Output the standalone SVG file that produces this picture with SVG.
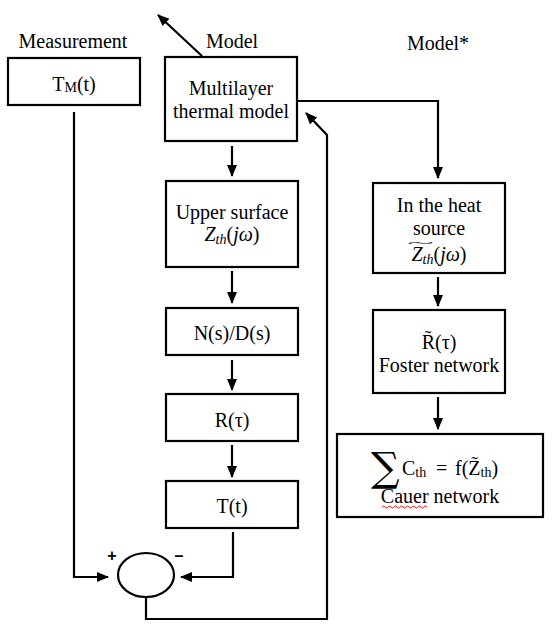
<svg xmlns="http://www.w3.org/2000/svg" width="553" height="639" viewBox="0 0 553 639">
<style>
.box{fill:#fff;stroke:#000;stroke-width:2.2}
.ln{fill:none;stroke:#000;stroke-width:2.2}
.ar{marker-end:url(#ah)}
text{font-family:"Liberation Serif","Times New Roman",serif;font-size:20px;fill:#000}
.c{text-anchor:middle}
.it{font-style:italic}
.sub{font-size:14px}
.sign{font-family:"Liberation Sans",Arial,sans-serif;font-weight:bold;font-size:16px}
</style>
<defs>
<marker id="ah" markerUnits="userSpaceOnUse" markerWidth="12" markerHeight="12" refX="11" refY="5" orient="auto" viewBox="0 0 12 10">
<path d="M0,0 L12,5 L0,10 z" fill="#000"/>
</marker>
</defs>
<rect width="553" height="639" fill="#fff"/>

<g id="labels">
<text class="c" x="73" y="48">Measurement</text>
<text class="c" x="232" y="48">Model</text>
<text class="c" x="438" y="50">Model*</text>
</g>

<g id="connectors">
<line class="ln ar" x1="202" y1="56" x2="158" y2="15"/>
<line class="ln ar" x1="232" y1="146" x2="232" y2="176"/>
<line class="ln ar" x1="232" y1="271" x2="232" y2="303"/>
<line class="ln ar" x1="232" y1="360" x2="232" y2="390"/>
<line class="ln ar" x1="232" y1="445" x2="232" y2="477"/>
<path class="ln ar" d="M233,532 V577 H181"/>
<path class="ln ar" d="M74,112 V577 H108"/>
<path class="ln ar" d="M146,597 V619 H327 V135 L306,113"/>
<path class="ln ar" d="M297,101 H438 V178"/>
<line class="ln ar" x1="438" y1="277" x2="438" y2="306"/>
<line class="ln ar" x1="438" y1="397" x2="438" y2="429"/>
</g>

<g id="measurement">
<rect class="box" x="8" y="58" width="132" height="47"/>
<text class="c" x="74" y="91">T<tspan class="sub" dy="1">M</tspan><tspan dy="-1">(t)</tspan></text>
</g>

<g id="model">
<rect class="box" x="165" y="57" width="132" height="84"/>
<text class="c" x="231" y="95">Multilayer</text>
<text class="c" x="231" y="118">thermal model</text>
</g>

<g id="upper-surface">
<rect class="box" x="166" y="181" width="132" height="86"/>
<text class="c" x="232" y="219">Upper surface</text>
<text class="c" x="232" y="241"><tspan class="it">Z</tspan><tspan class="it sub" dy="3">th</tspan><tspan dy="-3">(</tspan><tspan class="it">jω</tspan>)</text>
</g>

<g id="nd">
<rect class="box" x="166" y="308" width="132" height="47"/>
<text class="c" x="232" y="340">N(s)/D(s)</text>
</g>

<g id="r-tau">
<rect class="box" x="166" y="394" width="132" height="47"/>
<text class="c" x="232" y="427">R(τ)</text>
</g>

<g id="t-t">
<rect class="box" x="166" y="481" width="132" height="47"/>
<text class="c" x="232" y="513">T(t)</text>
</g>

<g id="sum">
<ellipse cx="146" cy="575" rx="28" ry="22" fill="#fff" stroke="#000" stroke-width="2.2"/>
<text class="sign c" x="112" y="561">+</text>
<text class="sign c" x="179" y="561">–</text>
</g>

<g id="heat-source">
<rect class="box" x="373" y="183" width="132" height="90"/>
<text class="c" x="439" y="212">In the heat</text>
<text class="c" x="439" y="235">source</text>
<text class="c" x="439" y="261"><tspan class="it">Z</tspan><tspan class="it sub" dy="3">th</tspan><tspan dy="-3">(</tspan><tspan class="it">jω</tspan>)</text>
<text x="407" y="246" textLength="27" lengthAdjust="spacingAndGlyphs" style="font-size:11px">~</text>
</g>

<g id="foster">
<rect class="box" x="373" y="310" width="132" height="83"/>
<text class="c" x="439" y="349">R̃(τ)</text>
<text class="c" x="439" y="372">Foster network</text>
</g>

<g id="cauer">
<rect class="box" x="337" y="434" width="206" height="83"/>
<text x="371" y="481" style="font-size:40px;font-family:'DejaVu Serif',serif">∑</text>
<text x="402" y="475">C<tspan class="sub" dy="2">th</tspan><tspan dy="-2" x="436">=</tspan><tspan x="455">f(Z̃</tspan><tspan class="sub" dy="2">th</tspan><tspan dy="-2">)</tspan></text>
<text class="c" x="440" y="503">Cauer network</text>
<path d="M382,507 q1.5,-2 3,0 t3,0 t3,0 t3,0 t3,0 t3,0 t3,0 t3,0 t3,0 t3,0 t3,0 t3,0 t3,0 t3,0 t3,0" fill="none" stroke="#e00" stroke-width="0.9"/>
</g>
</svg>
